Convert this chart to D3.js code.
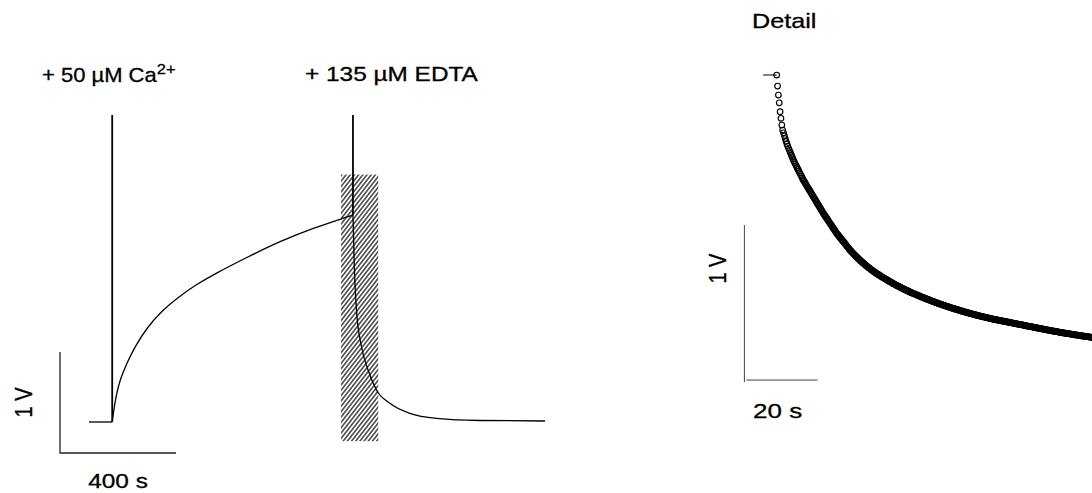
<!DOCTYPE html>
<html>
<head>
<meta charset="utf-8">
<script src="https://cdn.jsdelivr.net/npm/d3@7"></script>
<style>
  html, body { margin: 0; padding: 0; background: #fff; }
  svg { display: block; }
  text { font-family: "Liberation Sans", Arial, Helvetica, sans-serif; fill: #000; stroke: #000; stroke-width: 0.3px; }
</style>
</head>
<body>
<svg id="chart" width="1092" height="493"></svg>
<script>
// ---- Full recording (time in s, signal in V) ----
const baselineTime = [0, 80];
const baselineVolt = [0, 0];
const riseTime = [80, 87, 95, 107, 130, 159, 199, 250, 314, 370, 429, 544, 659, 773, 889, 910];
const riseVolt = [0, 0.15, 0.28, 0.42, 0.58, 0.75, 0.93, 1.10, 1.25, 1.36, 1.46, 1.63, 1.79, 1.92, 2.03, 2.05];
const decayTime = [910, 914, 922, 939, 962, 991, 1037, 1106, 1198, 1348, 1572];
const decayVolt = [2.05, 1.60, 1.11, 0.75, 0.515, 0.317, 0.185, 0.086, 0.036, 0.015, 0.01];

// additions (injection artefacts)
const additionTime = [80, 910];
const additionFrom = [0, 2.05];
const additionPeak = [3.04, 3.04];
const additionText = ["+ 50 \u00B5M Ca", "+ 135 \u00B5M EDTA"];
const additionSup = ["2+", ""];

// hatched window that is shown in detail
const detailWindowTime = [869, 997];
const detailWindowVolt = [-0.19, 2.45];

// scale bar of the full recording
const barTime = [-100, 300];      // 400 s
const barVolt = [-0.307, 0.693];  // 1 V
const barTimeLabel = "400 s";
const barVoltLabel = "1 V";

// ---- Detail: samples every 0.24 s after EDTA addition ----
const detailInterval = 0.24;
const detailLeadTime = [-3.8, 0];
const detailVolt = [
2.058,1.987,1.929,1.879,1.821,1.779,1.735,1.703,1.685,1.667,
1.648,1.630,1.613,1.599,1.585,1.572,1.558,1.544,1.531,1.517,
1.504,1.493,1.482,1.471,1.460,1.449,1.438,1.427,1.416,1.405,
1.394,1.383,1.374,1.365,1.355,1.346,1.337,1.328,1.319,1.310,
1.301,1.291,1.282,1.273,1.264,1.255,1.246,1.236,1.227,1.218,
1.209,1.200,1.191,1.182,1.172,1.163,1.155,1.147,1.139,1.131,
1.122,1.114,1.106,1.098,1.090,1.081,1.073,1.065,1.057,1.049,
1.040,1.033,1.026,1.019,1.012,1.005,0.998,0.991,0.985,0.978,
0.971,0.964,0.957,0.950,0.943,0.936,0.929,0.923,0.917,0.911,
0.906,0.900,0.894,0.889,0.883,0.878,0.873,0.867,0.862,0.857,
0.852,0.847,0.842,0.838,0.833,0.828,0.824,0.819,0.815,0.811,
0.806,0.802,0.798,0.794,0.790,0.786,0.783,0.779,0.775,0.772,
0.768,0.765,0.761,0.758,0.754,0.751,0.748,0.744,0.741,0.738,
0.734,0.731,0.728,0.725,0.722,0.719,0.715,0.712,0.709,0.706,
0.703,0.700,0.697,0.695,0.692,0.689,0.686,0.683,0.680,0.678,
0.675,0.672,0.670,0.667,0.665,0.662,0.659,0.657,0.654,0.652,
0.650,0.647,0.645,0.643,0.640,0.638,0.636,0.633,0.631,0.629,
0.626,0.624,0.622,0.620,0.618,0.615,0.613,0.611,0.609,0.607,
0.605,0.602,0.600,0.598,0.596,0.594,0.592,0.590,0.588,0.586,
0.584,0.582,0.580,0.578,0.576,0.574,0.573,0.571,0.569,0.567,
0.565,0.563,0.561,0.560,0.558,0.556,0.554,0.553,0.551,0.549,
0.547,0.546,0.544,0.542,0.541,0.539,0.537,0.536,0.534,0.532,
0.531,0.529,0.528,0.526,0.525,0.523,0.522,0.520,0.519,0.517,
0.516,0.514,0.513,0.511,0.510,0.508,0.507,0.506,0.504,0.503,
0.501,0.500,0.499,0.497,0.496,0.495,0.493,0.492,0.491,0.490,
0.488,0.487,0.486,0.485,0.483,0.482,0.481,0.480,0.479,0.478,
0.477,0.475,0.474,0.473,0.472,0.471,0.470,0.469,0.468,0.467,
0.466,0.465,0.463,0.462,0.461,0.460,0.459,0.458,0.457,0.456,
0.455,0.454,0.452,0.451,0.450,0.449,0.448,0.447,0.446,0.445,
0.444,0.443,0.441,0.440,0.439,0.438,0.437,0.436,0.435,0.434,
0.433,0.432,0.430,0.429,0.428,0.427,0.426,0.425,0.424,0.423,
0.422,0.421,0.419,0.418,0.417,0.416,0.415,0.414,0.413,0.412,
0.411,0.410,0.409,0.408,0.407,0.406,0.405,0.404,0.403,0.402,
0.401,0.400,0.399,0.398,0.397,0.396,0.395,0.394,0.393,0.392,
0.391,0.390,0.389,0.389,0.388,0.387,0.386,0.385,0.384,0.383,
0.382,0.381,0.381,0.380,0.379,0.378,0.377,0.376,0.375,0.375,
0.374,0.373,0.372,0.371,0.370,0.370,0.369,0.368,0.367,0.366,
0.365
];
const detailBarTime = [-8.5, 11.5];   // 20 s
const detailBarVolt = [0.09, 1.09];   // 1 V
const detailBarTimeLabel = "20 s";
const detailBarVoltLabel = "1 V";
const detailTitle = "Detail";

// ---- drawing ----
const svg = d3.select("#chart");
const FONT = 20;

// the lettering of this figure is set slightly wide
function label(g, x, y, str, opts = {}) {
  const sx = opts.stretch || 1.22;
  return g.append("text")
    .attr("transform", `translate(${x},${y}) scale(${sx},1)` + (opts.rotate ? ` rotate(${opts.rotate})` : ""))
    .attr("font-size", opts.size || FONT)
    .attr("text-anchor", opts.anchor || "start")
    .text(str);
}

// Left panel scales
const x = d3.scaleLinear().domain([0, 1572]).range([89, 545]);
const y = d3.scaleLinear().domain([0, 1]).range([422, 321]);

const left = svg.append("g");

// hatch pattern
const defs = svg.append("defs");
defs.append("pattern")
  .attr("id", "hatch")
  .attr("patternUnits", "userSpaceOnUse")
  .attr("width", 3.3).attr("height", 3.3)
  .attr("patternTransform", "rotate(38)")
  .append("line")
  .attr("x1", 0.8).attr("y1", 0).attr("x2", 0.8).attr("y2", 3.3)
  .attr("stroke", "#111").attr("stroke-width", 1.2);

left.append("rect")
  .attr("x", x(detailWindowTime[0]))
  .attr("y", y(detailWindowVolt[1]))
  .attr("width", x(detailWindowTime[1]) - x(detailWindowTime[0]))
  .attr("height", y(detailWindowVolt[0]) - y(detailWindowVolt[1]))
  .attr("fill", "url(#hatch)");

const zip = (a, b) => a.map((v, i) => [v, b[i]]);
const smooth = d3.line().curve(d3.curveBasis).x(d => x(d[0])).y(d => y(d[1]));
const mono = d3.line().curve(d3.curveMonotoneX).x(d => x(d[0])).y(d => y(d[1]));
const trace = [
  { pts: zip(baselineTime, baselineVolt), gen: mono },
  { pts: zip(riseTime, riseVolt), gen: smooth },
  { pts: zip(decayTime, decayVolt), gen: mono }
];
left.selectAll("path.trace").data(trace).join("path")
  .attr("class", "trace")
  .attr("d", d => d.gen(d.pts))
  .attr("fill", "none").attr("stroke", "#000").attr("stroke-width", 1.3)
  .attr("stroke-linejoin", "round");

// addition artefacts
left.selectAll("line.add").data(additionTime).join("line")
  .attr("class", "add")
  .attr("x1", d => x(d)).attr("x2", d => x(d))
  .attr("y1", (d, i) => y(additionFrom[i])).attr("y2", (d, i) => y(additionPeak[i]))
  .attr("stroke", "#000").attr("stroke-width", 1.8);

// addition labels
const labX = [42, 305];
const labY = [82, 81];
const labStretch = [1.1, 1.22];
additionText.forEach((s, i) => {
  const t = label(left, labX[i], labY[i], s, { stretch: labStretch[i] });
  if (additionSup[i]) {
    t.append("tspan").attr("font-size", 15).attr("dy", -8).text(additionSup[i]);
  }
});

// scale bar
left.append("path")
  .attr("d", `M${x(barTime[0])},${y(barVolt[1])}V${y(barVolt[0])}H${x(barTime[1])}`)
  .attr("fill", "none").attr("stroke", "#222").attr("stroke-width", 1.3);
label(left, (x(barTime[0]) + x(barTime[1])) / 2, 488, barTimeLabel, { anchor: "middle" });
label(left, 31.5, (y(barVolt[0]) + y(barVolt[1])) / 2, barVoltLabel, { anchor: "middle", rotate: -90 });

// Right panel (detail)
const xd = d3.scaleLinear().domain([0, 20]).range([776.7, 847.7]);
const yd = d3.scaleLinear().domain([0, 1]).range([394, 239]);
const right = svg.append("g");

label(right, 752, 28, detailTitle, { stretch: 1.26 });

right.append("line")
  .attr("x1", xd(detailLeadTime[0])).attr("x2", xd(detailLeadTime[1]))
  .attr("y1", yd(detailVolt[0])).attr("y2", yd(detailVolt[0]))
  .attr("stroke", "#000").attr("stroke-width", 1);

right.selectAll("circle").data(detailVolt).join("circle")
  .attr("cx", (d, i) => xd(i * detailInterval))
  .attr("cy", d => yd(d))
  .attr("r", 2.8)
  .attr("fill", "none").attr("stroke", "#000").attr("stroke-width", 1.15);

right.append("line")
  .attr("x1", xd(-9.1)).attr("x2", xd(-9.1))
  .attr("y1", yd(detailBarVolt[1])).attr("y2", yd(detailBarVolt[0]) + 2)
  .attr("stroke", "#444").attr("stroke-width", 1);
right.append("line")
  .attr("x1", xd(detailBarTime[0])).attr("x2", xd(detailBarTime[1]))
  .attr("y1", yd(detailBarVolt[0])).attr("y2", yd(detailBarVolt[0]))
  .attr("stroke", "#444").attr("stroke-width", 1);

label(right, 753, 418, detailBarTimeLabel, { stretch: 1.3 });
label(right, 726, (yd(detailBarVolt[0]) + yd(detailBarVolt[1])) / 2 - 34, detailBarVoltLabel, { anchor: "middle", rotate: -90 });
</script>
</body>
</html>
